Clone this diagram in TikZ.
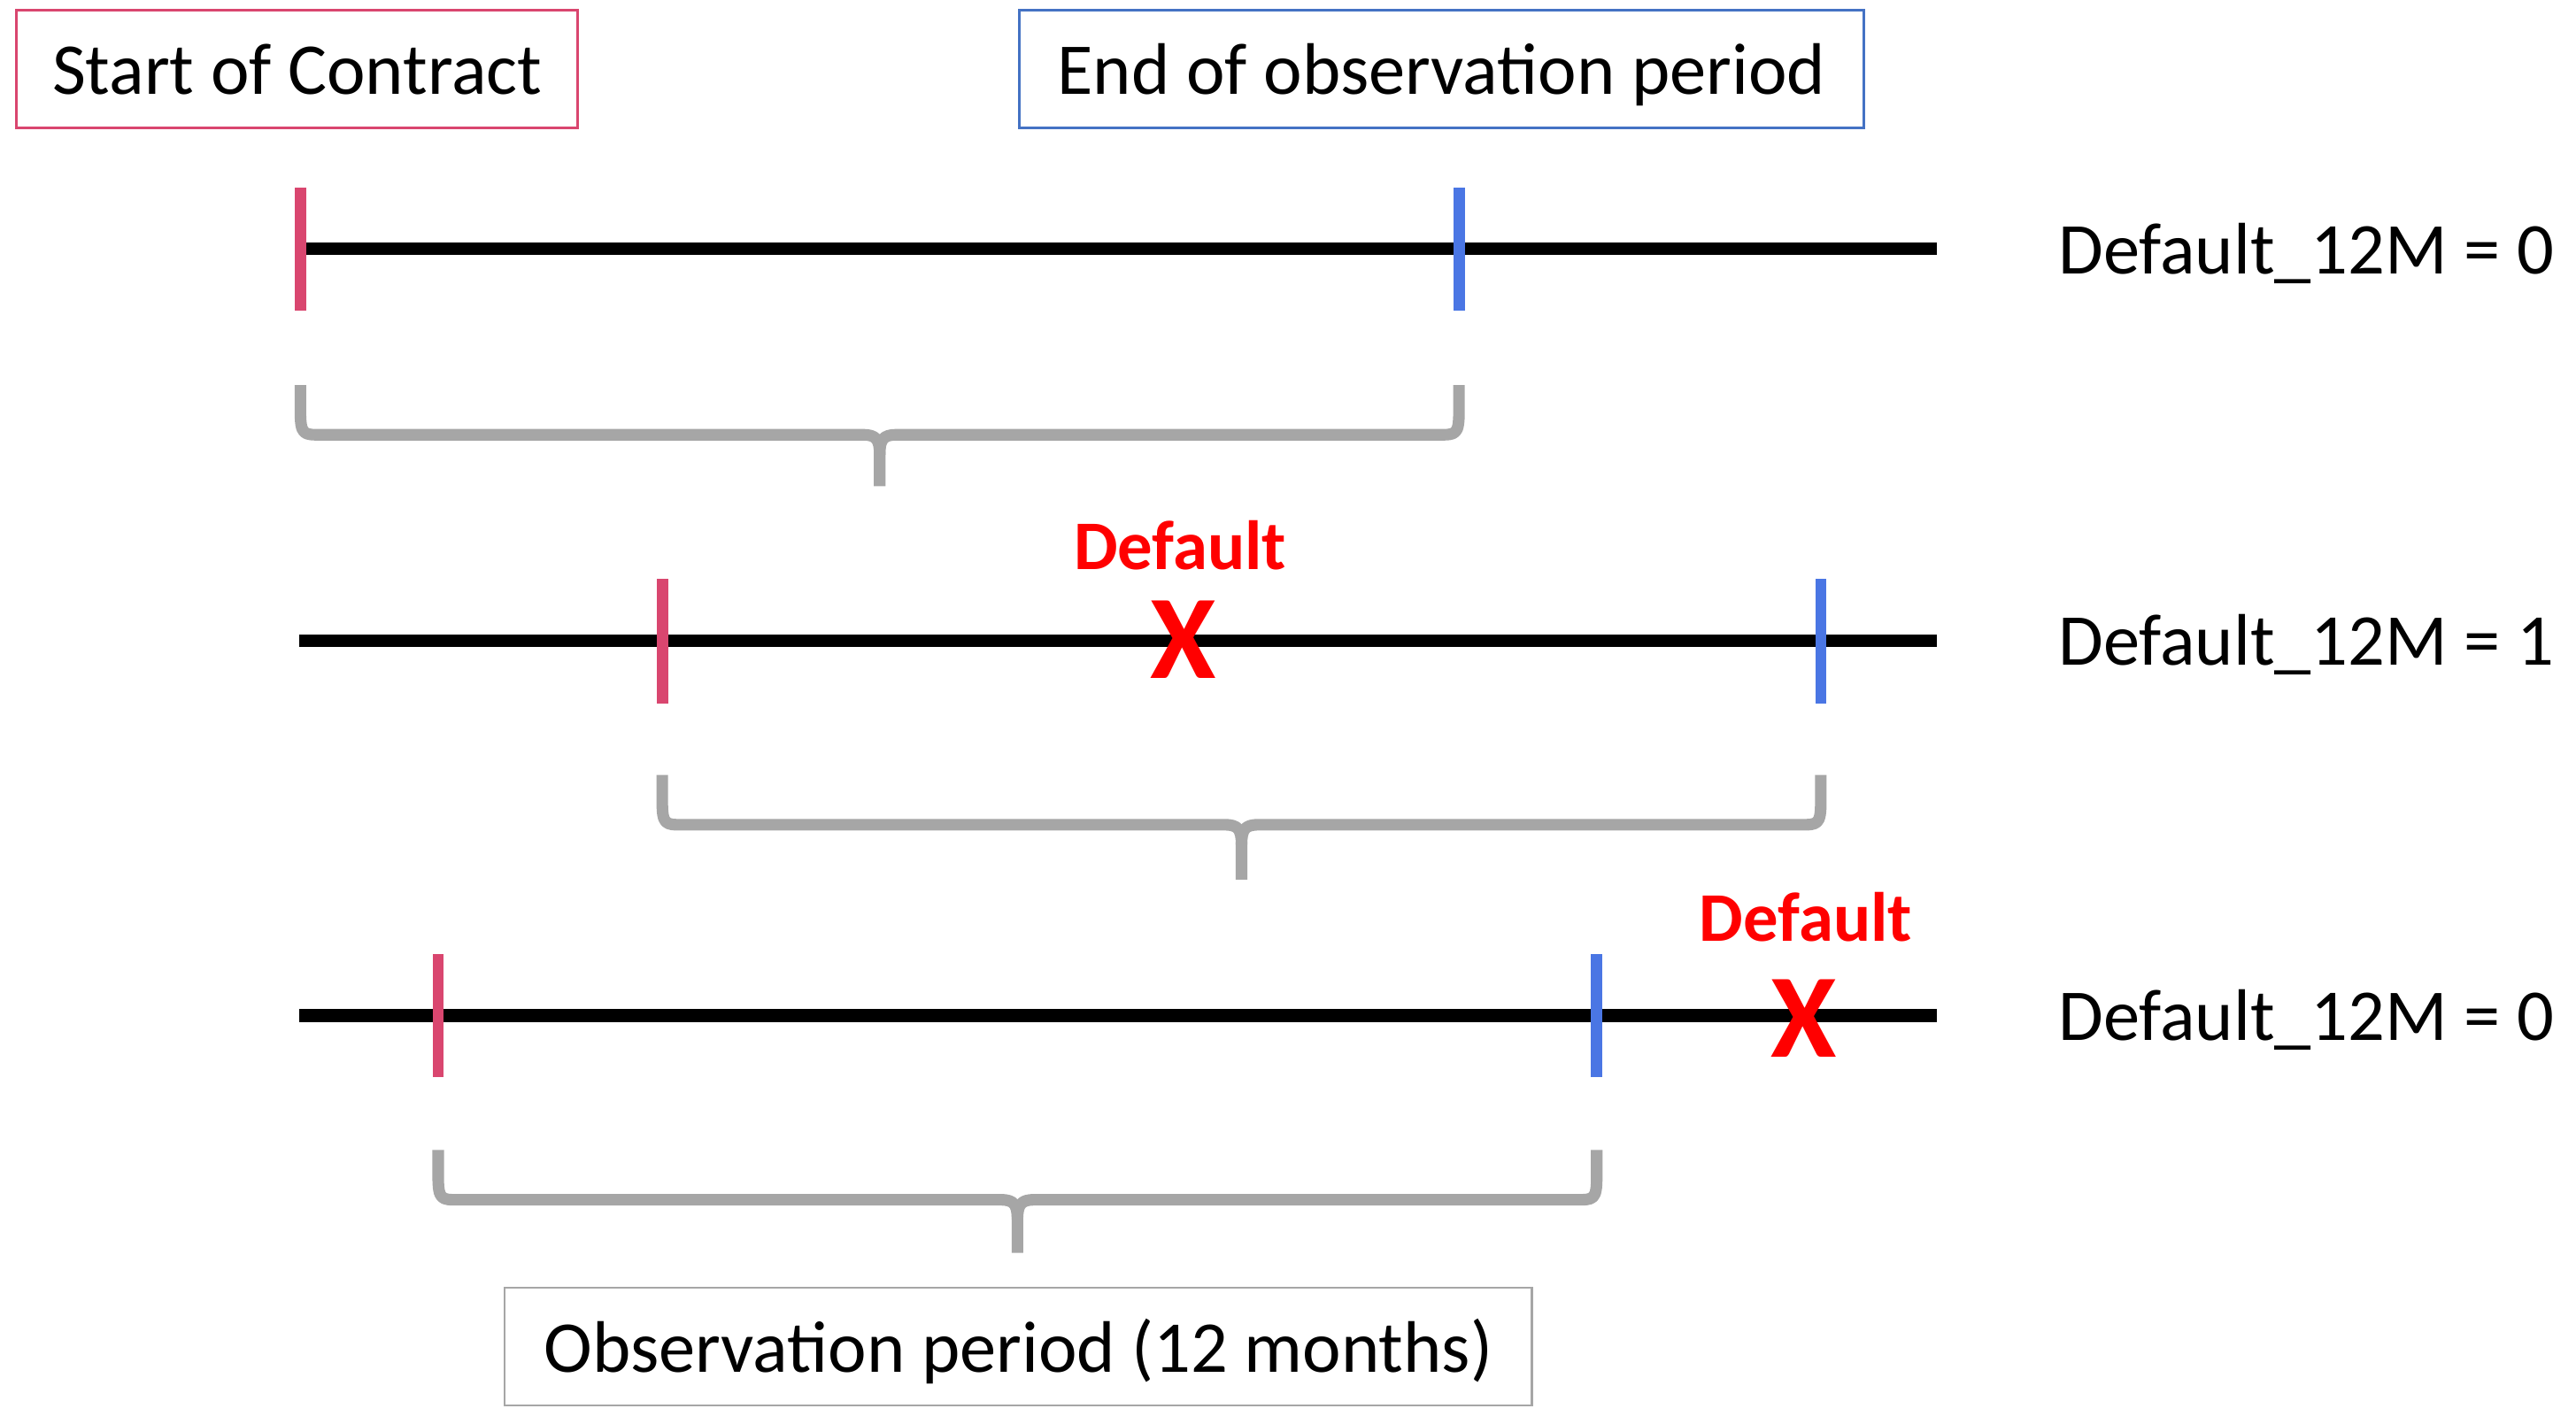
\documentclass[tikz,border=0pt]{standalone}
\usepackage{fontspec}
\setmainfont{Carlito}
\definecolor{pinkc}{HTML}{D9466F}
\definecolor{bluec}{HTML}{4A76E4}
\definecolor{blueb}{HTML}{4472C4}
\definecolor{grayc}{HTML}{A6A6A6}
\definecolor{redc}{HTML}{FF0000}
\newcommand{\periodbrace}[5]{% xl xr yt yb ytip ; xc computed
  \pgfmathsetmacro{\xc}{(#1+#2)/2}
  \draw[bracestyle] (#1,#3) -- (#1,#4-14) .. controls (#1,#4) and (#1+2,#4) .. (#1+12,#4)
     -- (\xc-10,#4) .. controls (\xc-2,#4) and (\xc,#4+3) .. (\xc,#4+12) -- (\xc,#5);
  \draw[bracestyle] (#2,#3) -- (#2,#4-14) .. controls (#2,#4) and (#2-2,#4) .. (#2-12,#4)
     -- (\xc+10,#4) .. controls (\xc+2,#4) and (\xc,#4+3) .. (\xc,#4+12);
}
\begin{document}
\begin{tikzpicture}[x=0.5pt,y=-0.5pt,
  timeline/.style={line width=3.75pt,black},
  starttick/.style={line width=3.4pt,pinkc},
  endtick/.style={line width=3.4pt,bluec},
  bracestyle/.style={line width=3.5pt,grayc,line join=round},
  labelbox/.style={draw,line width=0.7pt,minimum height=35.5pt,inner sep=0pt,text height=15.5pt,text depth=0pt,font=\fontsize{22}{26}\selectfont},
  outcome/.style={anchor=base west,inner sep=0pt,font=\fontsize{22}{26}\selectfont},
  deflabel/.style={anchor=base,inner sep=0pt,text=redc,font=\bfseries\fontsize{21}{25}\selectfont},
  defmark/.style={anchor=base,inner sep=0pt,text=redc,font=\bfseries\fontsize{36}{40}\selectfont}]
\useasboundingbox (0,0) rectangle (1552,857.6);

% boxes
\node[labelbox,draw=pinkc,minimum width=169pt] (start) at (179,41.5) {Start of Contract};
\node[labelbox,draw=blueb,minimum width=254.5pt] (end) at (868.5,41.5) {End of observation period};
\node[labelbox,draw=grayc,minimum width=309.5pt] (obs) at (613.5,811.5) {Observation period (12 months)};

% timeline 1
\coordinate (l1a) at (180,150); \coordinate (l1b) at (1167,150);
\draw[timeline] (l1a) -- (l1b);
\draw[starttick] (181,113) -- (181,187);
\draw[endtick] (879,113) -- (879,187);
\node[outcome] (o1) at (1240,165) {Default\_12M = 0};
\periodbrace{181}{879}{232}{262}{293}

% timeline 2
\coordinate (l2a) at (180,386); \coordinate (l2b) at (1167,386);
\draw[timeline] (l2a) -- (l2b);
\draw[starttick] (399,349) -- (399,424);
\draw[endtick] (1097,349) -- (1097,424);
\node[deflabel] (d1) at (711,343) {Default};
\node[defmark] (x1) at (713,409) {X};
\node[outcome] (o2) at (1240,401) {Default\_12M = 1};
\periodbrace{399}{1097}{467}{497}{530}

% timeline 3
\coordinate (l3a) at (180,612); \coordinate (l3b) at (1167,612);
\draw[timeline] (l3a) -- (l3b);
\draw[starttick] (264,575) -- (264,649);
\draw[endtick] (962,575) -- (962,649);
\node[deflabel] (d2) at (1088,567) {Default};
\node[defmark] (x2) at (1087,637) {X};
\node[outcome] (o3) at (1240,627) {Default\_12M = 0};
\periodbrace{264}{962}{693}{723}{755}
\end{tikzpicture}
\end{document}
